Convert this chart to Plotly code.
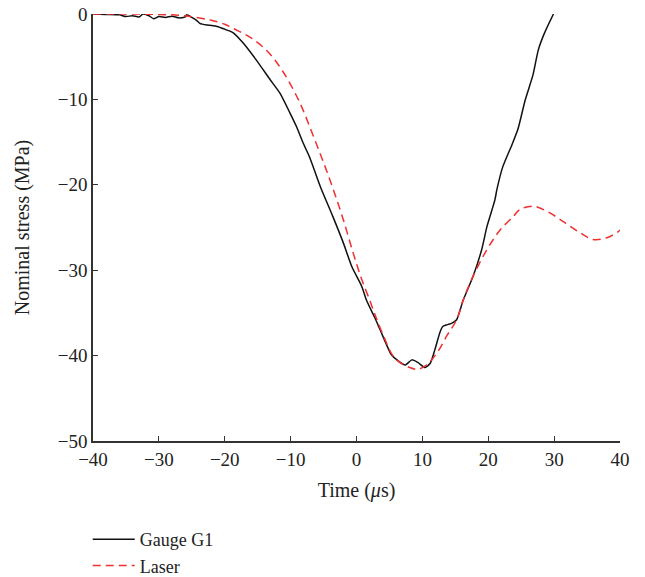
import plotly.graph_objects as go

# Gauge G1 (solid black)
gauge_t = [-40, -38, -36, -35, -34, -33, -32.4, -31.5, -30.8, -30, -29, -28, -27, -26, -25.8, -25,
           -24.2, -23.8, -22.7, -22, -21, -20.3, -19.2, -18.7, -17.2, -15.2, -13.1, -11.6, -10.1,
           -9.1, -8.1, -7.1, -5.5, -3.6, -2, -0.7, 0.8, 1.5, 2.8, 3.6, 5.3, 6.3, 7.4, 8.4, 9.3,
           10.4, 11.2, 11.9, 12.7, 13.1, 13.7, 14.5, 15.2, 16.2, 17.7, 19, 19.8, 21, 21.3, 22.2,
           23.6, 24.5, 25.6, 26.8, 27.6, 28.5, 29.9]
gauge_s = [0, -0.05, -0.1, -0.3, -0.2, -0.35, 0, -0.2, -0.55, -0.3, -0.4, -0.25, -0.45, -0.35, -0.1, -0.4,
           -0.8, -1.1, -1.3, -1.35, -1.5, -1.7, -2.0, -2.2, -3.4, -5.4, -7.7, -9.3, -11.6,
           -13.2, -15.1, -16.8, -20.2, -23.7, -26.8, -29.6, -31.9, -33.5, -35.6, -37, -39.9, -40.6, -41.1, -40.5, -40.8,
           -41.4, -40.9, -39.3, -37.2, -36.6, -36.4, -36.2, -35.8, -33.5, -30.7, -27.6, -24.9, -21.8, -20.6, -17.9,
           -15.3, -13.5, -10.1, -7.1, -4.2, -2.3, 0]

# Laser (dashed red)
laser_t = [-40, -35, -30, -27, -25.3, -22.2, -20, -18.7, -16.2, -13.6, -11.2, -8.6, -6.6, -5, -3.5,
           -2, -0.5, 0.8, 2, 2.8, 4, 5.8, 8.1, 9.3, 10.6, 12.2, 13.7, 15.2, 16.2, 17.7, 19.8, 21.8,
           23.8, 24.8, 26.8, 28.9, 31.4, 33.9, 35.9, 38, 39.7, 40]
laser_s = [0, 0, -0.05, -0.15, -0.3, -0.7, -1.2, -1.7, -2.7, -4.3, -6.7, -10.4, -14.2, -17.4, -20.6,
           -24.1, -28, -31.1, -33.5, -35.2, -37.5, -40.3, -41.4, -41.6, -41.1, -39.7, -37.7, -35.8, -33.5, -30.7, -27.6, -25.3,
           -23.7, -22.9, -22.5, -23.1, -24.3, -25.6, -26.4, -26.2, -25.5, -25.3]

x_ticks = [-40, -30, -20, -10, 0, 10, 20, 30, 40]
y_ticks = [-50, -40, -30, -20, -10, 0]

FONT = "Liberation Serif"

fig = go.Figure()
fig.add_trace(go.Scatter(x=gauge_t, y=gauge_s, mode="lines", name="Gauge G1",
                         line=dict(color="#111111", width=1.5, shape="spline", smoothing=0.6)))
fig.add_trace(go.Scatter(x=laser_t, y=laser_s, mode="lines", name="Laser",
                         line=dict(color="#f03030", width=1.5, dash="8px,5px", shape="spline", smoothing=1.0)))

axis_common = dict(showline=True, linecolor="#333333", linewidth=1.5, ticks="inside", ticklen=5,
                   tickcolor="#333333", tickwidth=1.2, showgrid=False, zeroline=False, automargin=False,
                   tickfont=dict(family=FONT, size=19, color="#222222"))

fig.update_layout(
    width=645, height=577,
    margin=dict(l=93, r=25, t=14, b=136, autoexpand=False),
    paper_bgcolor="white", plot_bgcolor="white",
    font=dict(family=FONT, size=19, color="#222222"),
    xaxis=dict(range=[-40, 40], tickvals=x_ticks,
               title=dict(text="Time (<i>μ</i>s)", font=dict(family=FONT, size=20), standoff=14),
               **axis_common),
    yaxis=dict(range=[-50, 0], tickvals=y_ticks,
               title=dict(text="Nominal stress (MPa)", font=dict(family=FONT, size=20), standoff=23),
               **axis_common),
    showlegend=True,
    legend=dict(x=-0.01, y=1 - 521 / 577, yref="container", xanchor="left", yanchor="top",
                orientation="v", itemwidth=42,
                font=dict(family=FONT, size=18), bgcolor="rgba(0,0,0,0)", tracegroupgap=0),
)

fig.write_html("out.html")
